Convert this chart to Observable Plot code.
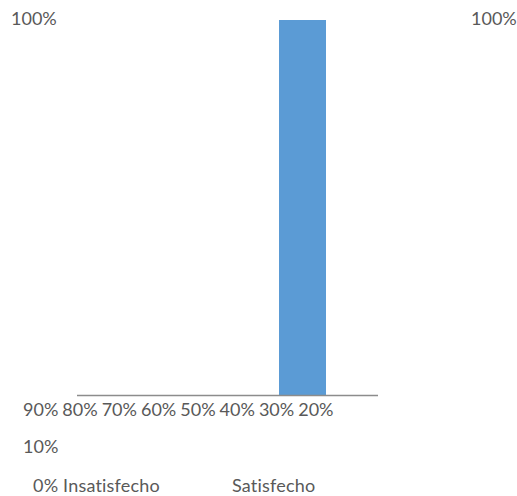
<!DOCTYPE html>
<html><head><meta charset="utf-8">
<script src="https://cdn.jsdelivr.net/npm/d3@7"></script>
<script src="https://cdn.jsdelivr.net/npm/@observablehq/plot@0.6"></script>
<style>
html,body{margin:0;padding:0;background:#fff;}
#wrap{position:relative;width:517px;height:496px;overflow:hidden;font-family:Lato,"Noto Sans",sans-serif;color:#595959;}
#wrap svg{position:absolute;left:0;top:0;}
.lbl{position:absolute;font-size:18px;white-space:pre;line-height:1;}
</style></head><body>
<div id="wrap"></div>
<script>
const categories = ["Insatisfecho", "Satisfecho"];
const values = [0, 1];
const yTicks = [1, 0.9, 0.8, 0.7, 0.6, 0.5, 0.4, 0.3, 0.2, 0.1, 0];

const data = categories.map((c, i) => ({cat: c, v: values[i]}));
const fmt = d3.format(".0%");
const wrap = document.getElementById("wrap");

const chart = Plot.plot({
  width: 517, height: 496,
  marginLeft: 77, marginRight: 139, marginTop: 20, marginBottom: 101,
  x: {domain: categories, paddingInner: 0.688, paddingOuter: 0.344, axis: null},
  y: {domain: [0, 1], axis: null},
  marks: [
    Plot.barY(data, {x: "cat", y: "v", fill: "#5B9BD5"}),
    Plot.ruleY([0], {stroke: "#8c8c8c", strokeWidth: 1.5})
  ]
});
wrap.appendChild(chart);

function addLabel(text, left, top, extra) {
  const d = document.createElement("div");
  d.className = "lbl";
  d.textContent = text;
  d.style.left = left + "px";
  d.style.top = top + "px";
  if (extra) Object.assign(d.style, extra);
  wrap.appendChild(d);
}
addLabel(fmt(yTicks[0]), 11, 9);
addLabel(fmt(values[1]), 471, 9);
addLabel(yTicks.slice(1, 9).map(fmt).join(" "), 23, 400, {wordSpacing: "-0.6px"});
addLabel(fmt(yTicks[9]), 23, 437);
addLabel(fmt(yTicks[10]) + " " + categories[0], 33, 476, {letterSpacing: "0.2px"});
addLabel(categories[1], 232, 476, {letterSpacing: "0.2px"});
</script>
</body></html>
